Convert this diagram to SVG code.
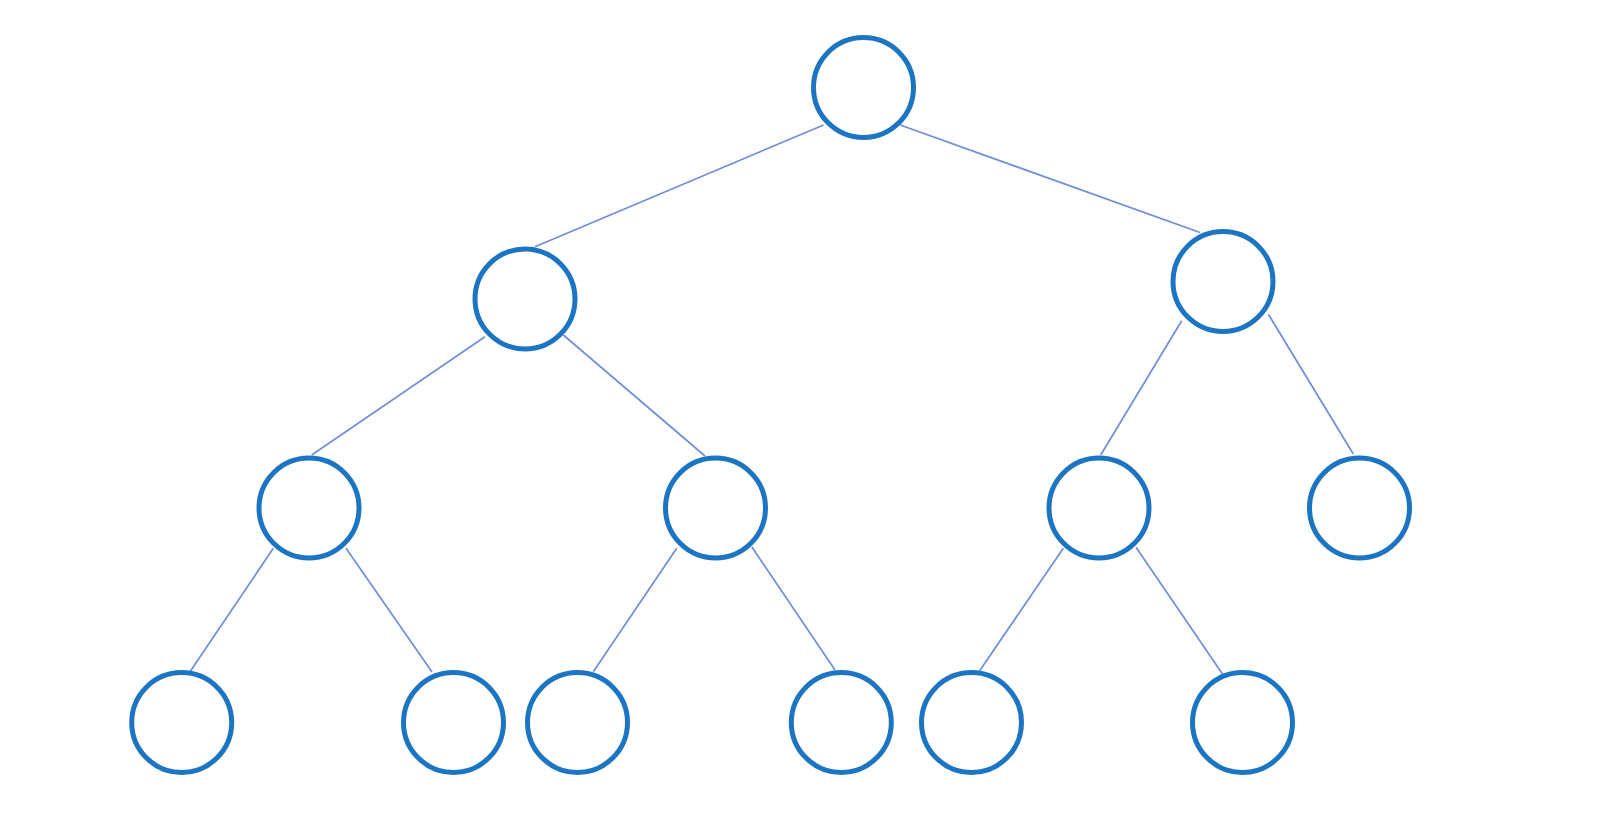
<svg xmlns="http://www.w3.org/2000/svg" width="1624" height="816" viewBox="0 0 1624 816">
<style>
.edge{stroke:#6f8fd9;stroke-width:1.7;fill:none}
.node circle{fill:#ffffff;stroke:#1b75c3;stroke-width:5}
</style>
<rect width="1624" height="816" fill="#ffffff"/>
<g id="connectors">
<line class="edge" x1="823.5" y1="125" x2="535" y2="246.7"/>
<line class="edge" x1="900.2" y1="125" x2="1200" y2="232.5"/>
<line class="edge" x1="485" y1="336.7" x2="311.7" y2="455"/>
<line class="edge" x1="563.3" y1="335" x2="705" y2="456"/>
<line class="edge" x1="1181.7" y1="320.8" x2="1100.7" y2="455"/>
<line class="edge" x1="1268.3" y1="314.2" x2="1353.3" y2="454"/>
<line class="edge" x1="273.3" y1="548.3" x2="190" y2="671.7"/>
<line class="edge" x1="346" y1="548.3" x2="432" y2="672"/>
<line class="edge" x1="676.7" y1="548.3" x2="593.3" y2="671.7"/>
<line class="edge" x1="751.7" y1="546.7" x2="835" y2="670"/>
<line class="edge" x1="1063.3" y1="548.3" x2="979.5" y2="671"/>
<line class="edge" x1="1136" y1="547.3" x2="1222.5" y2="674"/>
</g>
<g id="n0" class="node"><circle cx="863.5" cy="87.5" r="50"/></g>
<g id="n1" class="node"><circle cx="525" cy="299" r="50"/></g>
<g id="n2" class="node"><circle cx="1223" cy="281.5" r="50"/></g>
<g id="n3" class="node"><circle cx="309" cy="508" r="50"/></g>
<g id="n4" class="node"><circle cx="715.5" cy="508" r="50"/></g>
<g id="n5" class="node"><circle cx="1099" cy="508" r="50"/></g>
<g id="n6" class="node"><circle cx="1359.5" cy="508" r="50"/></g>
<g id="n7" class="node"><circle cx="181.7" cy="722.5" r="50"/></g>
<g id="n8" class="node"><circle cx="453.5" cy="722.5" r="50"/></g>
<g id="n9" class="node"><circle cx="577.5" cy="722.5" r="50"/></g>
<g id="n10" class="node"><circle cx="841.3" cy="722.5" r="50"/></g>
<g id="n11" class="node"><circle cx="971.5" cy="722.5" r="50"/></g>
<g id="n12" class="node"><circle cx="1242.5" cy="722.5" r="50"/></g>
</svg>
